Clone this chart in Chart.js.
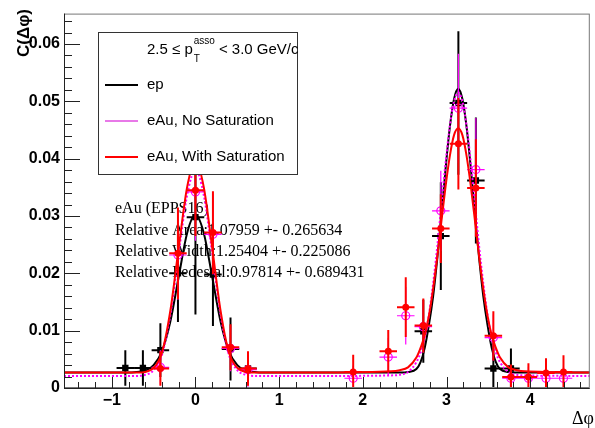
<!DOCTYPE html>
<html>
<head>
<meta charset="utf-8">
<script src="https://cdn.jsdelivr.net/npm/chart.js@4.4.1/dist/chart.umd.min.js"></script>
<style>
  html, body { margin: 0; padding: 0; background: #fff; }
  #wrap { width: 595px; height: 428px; }
</style>
</head>
<body>
<div id="wrap"><canvas id="dphi" width="595" height="428"></canvas></div>
<script>
// --- data (bin centres of 30 bins over [-pi/2, 3pi/2]) ---
const epX   = [-0.838, -0.628, -0.419, -0.209, 0, 0.209, 0.419, 0.628, 2.723, 2.932, 3.142, 3.351, 3.560, 3.770];
const epY   = [0.0035, 0.0035, 0.0066, 0.0200, 0.0298, 0.0198, 0.0068, 0.0034, 0.0099, 0.0265, 0.0497, 0.0362, 0.0034, 0.0034];
const epErr = [0.0031, 0.0031, 0.0047, 0.0085, 0.0170, 0.0090, 0.0055, 0.0028, 0.0055, 0.0094, 0.0125, 0.0110, 0.0050, 0.0035];

const satX   = [-0.419, -0.209, 0, 0.209, 0.419, 0.628, 1.885, 2.304, 2.513, 2.723, 2.932, 3.142, 3.351, 3.560, 3.770, 3.979, 4.189, 4.398];
const satY   = [0.0034, 0.0235, 0.0345, 0.0271, 0.0071, 0.0034, 0.0028, 0.0064, 0.0141, 0.0109, 0.0278, 0.0426, 0.0349, 0.0091, 0.0019, 0.0019, 0.0026, 0.0028];
const satErr = [0.0030, 0.0080, 0.0080, 0.0072, 0.0040, 0.0030, 0.0030, 0.0037, 0.0052, 0.0047, 0.0060, 0.0080, 0.0085, 0.0043, 0.0022, 0.0024, 0.0026, 0.0029];

const noSatX   = [-0.419, -0.209, 0, 0.209, 0.419, 0.628, 1.885, 2.304, 2.513, 2.723, 2.932, 3.142, 3.351, 3.560, 3.770, 3.979, 4.189, 4.398];
const noSatY   = [0.0036, 0.0232, 0.0342, 0.0268, 0.0069, 0.0032, 0.0017, 0.0054, 0.0126, 0.0107, 0.0309, 0.0488, 0.0381, 0.0088, 0.0017, 0.0017, 0.0017, 0.0017];
const noSatErr = [0.0030, 0.0078, 0.0085, 0.0070, 0.0040, 0.0030, 0.0022, 0.0033, 0.0050, 0.0045, 0.0070, 0.0095, 0.0090, 0.0040, 0.0020, 0.0020, 0.0020, 0.0020];

// fit curves, sampled by eye
const fitX = [-1.571,
  -0.8, -0.7, -0.6, -0.5, -0.4, -0.3, -0.2, -0.1, 0, 0.1, 0.2, 0.3, 0.4, 0.5, 0.6, 0.7, 0.8,
  1.571,
  2.34, 2.44, 2.54, 2.64, 2.69, 2.74, 2.79, 2.84, 2.89, 2.94, 2.99, 3.04, 3.09, 3.14,
  3.19, 3.24, 3.29, 3.34, 3.39, 3.44, 3.49, 3.54, 3.59, 3.64, 3.74, 3.84, 3.94,
  4.712];
const fitEp = [0.0027,
  0.0027, 0.0028, 0.0030, 0.0040, 0.0064, 0.0116, 0.0194, 0.0270, 0.0302, 0.0270, 0.0194, 0.0116, 0.0064, 0.0040, 0.0030, 0.0028, 0.0027,
  0.0027,
  0.0027, 0.0027, 0.0028, 0.0033, 0.0045, 0.0070, 0.0110, 0.0160, 0.0226, 0.0303, 0.0384, 0.0455, 0.0504, 0.0522,
  0.0504, 0.0455, 0.0384, 0.0303, 0.0226, 0.0160, 0.0110, 0.0070, 0.0045, 0.0033, 0.0028, 0.0027, 0.0027,
  0.0027];
const fitNoSat = [0.0021,
  0.0021, 0.0021, 0.0023, 0.0031, 0.0058, 0.0128, 0.0235, 0.0336, 0.0381, 0.0336, 0.0235, 0.0128, 0.0058, 0.0031, 0.0023, 0.0021, 0.0021,
  0.0021,
  0.0022, 0.0023, 0.0028, 0.0045, 0.0062, 0.0088, 0.0128, 0.0182, 0.0247, 0.0321, 0.0394, 0.0457, 0.0500, 0.0515,
  0.0500, 0.0457, 0.0394, 0.0321, 0.0247, 0.0182, 0.0128, 0.0088, 0.0062, 0.0045, 0.0028, 0.0023, 0.0022,
  0.0021];
const fitSat = [0.0027,
  0.0027, 0.0027, 0.0028, 0.0035, 0.0062, 0.0135, 0.0245, 0.0350, 0.0397, 0.0350, 0.0245, 0.0135, 0.0062, 0.0035, 0.0028, 0.0027, 0.0027,
  0.0027,
  0.0029, 0.0031, 0.0036, 0.0053, 0.0070, 0.0092, 0.0126, 0.0173, 0.0229, 0.0292, 0.0353, 0.0405, 0.0441, 0.0453,
  0.0441, 0.0405, 0.0353, 0.0292, 0.0229, 0.0173, 0.0126, 0.0092, 0.0070, 0.0053, 0.0036, 0.0031, 0.0029,
  0.0027];

const xTicks = [-1, 0, 1, 2, 3, 4];
const yTicks = [0, 0.01, 0.02, 0.03, 0.04, 0.05, 0.06];
const xMin = -Math.PI / 2, xMax = 3 * Math.PI / 2;
const yMin = 0, yMax = 0.0653;
const binHalf = Math.PI / 30;

const legendLabels = ['ep', 'eAu, No Saturation', 'eAu, With Saturation'];
const fitText = [
  'eAu (EPPS16)',
  'Relative Area:1.07959 +- 0.265634',
  'Relative Width:1.25404 +- 0.225086',
  'Relative Pedestal:0.97814 +- 0.689431'
];

const SANS = '"Liberation Sans", Arial, Helvetica, sans-serif';
const SERIF = '"Liberation Serif", "Times New Roman", serif';
const MAGENTA = '#ff00ff';

// build the error-bar polylines (null breaks between segments)
const errorSegments = (xs, ys, es) => {
  const pts = [];
  xs.forEach((x, i) => {
    pts.push({ x: x, y: ys[i] - es[i] }, { x: x, y: ys[i] + es[i] }, { x: x, y: null });
    pts.push({ x: x - binHalf, y: ys[i] }, { x: x + binHalf, y: ys[i] }, { x: x, y: null });
  });
  return pts;
};
const toPoints = (xs, ys) => xs.map((x, i) => ({ x: x, y: ys[i] }));

const datasets = [
  // ep (black) - drawn first (highest order)
  { data: toPoints(fitX, fitEp), borderColor: '#000', borderWidth: 2, pointRadius: 0, order: 60, cubicInterpolationMode: 'monotone' },
  { data: errorSegments(epX, epY, epErr), borderColor: '#000', borderWidth: 2, pointRadius: 0, spanGaps: false, order: 70 },
  { data: toPoints(epX, epY), showLine: false, pointStyle: 'rect', pointRadius: 4.5, backgroundColor: '#000', borderColor: '#000', borderWidth: 0, order: 65 },
  // eAu no saturation (magenta)
  { data: toPoints(fitX, fitNoSat), borderColor: MAGENTA, borderWidth: 2, borderDash: [2, 2], pointRadius: 0, order: 40, cubicInterpolationMode: 'monotone' },
  { data: errorSegments(noSatX, noSatY, noSatErr), borderColor: MAGENTA, borderWidth: 1.2, pointRadius: 0, spanGaps: false, order: 50 },
  { data: toPoints(noSatX, noSatY), showLine: false, pointStyle: 'circle', pointRadius: 4, backgroundColor: 'rgba(255,255,255,0)', borderColor: MAGENTA, borderWidth: 1.2, order: 45 },
  // eAu with saturation (red) - on top
  { data: toPoints(fitX, fitSat), borderColor: '#ff0000', borderWidth: 2, pointRadius: 0, order: 10, cubicInterpolationMode: 'monotone' },
  { data: errorSegments(satX, satY, satErr), borderColor: '#ff0000', borderWidth: 2, pointRadius: 0, spanGaps: false, order: 20 },
  { data: toPoints(satX, satY), showLine: false, pointStyle: 'circle', pointRadius: 3.5, backgroundColor: '#ff0000', borderColor: '#ff0000', borderWidth: 0, order: 15 }
];

// ROOT-like frame, inward ticks, legend box and texts
const rootStyle = {
  id: 'rootStyle',
  beforeDatasetsDraw(chart) {
    const c = chart.ctx;
    c.save();
    c.fillStyle = '#000';
    c.font = '16px ' + SERIF;
    c.textAlign = 'left';
    c.textBaseline = 'middle';
    const ys = [209, 231, 252, 273];
    fitText.forEach((t, i) => c.fillText(t, 115, ys[i]));
    c.restore();
  },
  afterDatasetsDraw(chart) {
    const c = chart.ctx;
    const a = chart.chartArea;
    const sx = chart.scales.x, sy = chart.scales.y;
    c.save();
    // frame
    c.lineWidth = 1;
    c.strokeStyle = '#777';
    c.strokeRect(a.left + 0.5, a.top + 0.5, a.right - a.left - 1, a.bottom - a.top - 1);
    c.strokeStyle = '#222';
    c.beginPath();
    c.moveTo(a.left + 0.5, a.top);
    c.lineTo(a.left + 0.5, a.bottom + 0.5);
    c.lineTo(a.right, a.bottom + 0.5);
    c.stroke();
    // y ticks
    c.beginPath();
    for (let v = 0; v <= 0.0641; v += 0.002) {
      const py = Math.round(sy.getPixelForValue(v)) + 0.5;
      const major = Math.abs(v / 0.01 - Math.round(v / 0.01)) < 1e-6;
      c.moveTo(a.left, py);
      c.lineTo(a.left + (major ? 16 : 8), py);
    }
    // x ticks
    for (let i = -7; i <= 23; i++) {
      const v = i * 0.2;
      if (v < xMin || v > xMax) continue;
      const px = Math.round(sx.getPixelForValue(v)) + 0.5;
      const major = i % 5 === 0;
      c.moveTo(px, a.bottom);
      c.lineTo(px, a.bottom - (major ? 11 : 6));
    }
    c.stroke();

    // axis titles
    c.fillStyle = '#000';
    c.font = '18px ' + SERIF;
    c.textAlign = 'right';
    c.textBaseline = 'alphabetic';
    c.fillText('Δφ', 594, 424);
    c.save();
    c.translate(29, 9);
    c.rotate(-Math.PI / 2);
    c.font = 'bold 17px ' + SANS;
    c.textAlign = 'right';
    c.fillText('C(Δφ)', 0, 0);
    c.restore();

    // legend box
    const L = { left: 98, top: 32, right: 297, bottom: 174 };
    c.fillStyle = '#fff';
    c.fillRect(L.left, L.top, L.right - L.left, L.bottom - L.top);
    c.strokeStyle = '#333';
    c.lineWidth = 1;
    c.strokeRect(L.left + 0.5, L.top + 0.5, L.right - L.left, L.bottom - L.top);

    // header with p_T^asso
    c.fillStyle = '#000';
    c.textAlign = 'left';
    c.textBaseline = 'alphabetic';
    c.font = '15px ' + SANS;
    let hx = 147;
    const part1 = '2.5 ≤ p';
    c.fillText(part1, hx, 54);
    hx += c.measureText(part1).width;
    c.font = '10px ' + SANS;
    c.fillText('asso', hx + 1, 44);
    const wSup = c.measureText('asso').width;
    c.fillText('T', hx + 1, 62);
    hx += wSup + 5;
    c.font = '15px ' + SANS;
    c.fillText('< 3.0 GeV/c', hx, 54);

    const colors = ['#000', '#e879e8', '#ff0000'];
    const rows = [85, 121, 157];
    legendLabels.forEach((lab, i) => {
      c.strokeStyle = colors[i];
      c.lineWidth = 2;
      c.beginPath();
      c.moveTo(105, rows[i]);
      c.lineTo(138, rows[i]);
      c.stroke();
      c.fillStyle = '#000';
      c.font = '15px ' + SANS;
      c.textBaseline = 'middle';
      c.fillText(lab, 147, rows[i]);
    });
    c.restore();
  }
};

const tickFont = { family: SANS, size: 16, weight: 'bold' };

new Chart(document.getElementById('dphi'), {
  type: 'line',
  data: { datasets: datasets },
  options: {
    responsive: false,
    devicePixelRatio: 1,
    animation: false,
    layout: { padding: { top: 9, right: 1, left: 0, bottom: 0 } },
    plugins: { legend: { display: false }, tooltip: { enabled: false } },
    elements: { line: { tension: 0 } },
    scales: {
      x: {
        type: 'linear',
        min: xMin,
        max: xMax,
        afterBuildTicks: s => { s.ticks = xTicks.map(v => ({ value: v })); },
        afterFit: s => { s.height = 40; },
        grid: { display: false, drawTicks: false },
        border: { display: false },
        ticks: {
          padding: 3,
          color: '#000',
          font: tickFont,
          maxRotation: 0,
          autoSkip: false,
          callback: v => (v < 0 ? '\u2212' + Math.abs(v) : String(v))
        }
      },
      y: {
        type: 'linear',
        min: yMin,
        max: yMax,
        afterBuildTicks: s => { s.ticks = yTicks.map(v => ({ value: v })); },
        afterFit: s => { s.width = 64; },
        grid: { display: false, drawTicks: false },
        border: { display: false },
        ticks: {
          padding: 4,
          color: '#000',
          font: tickFont,
          autoSkip: false,
          callback: v => (v === 0 ? '0' : v.toFixed(2))
        }
      }
    }
  },
  plugins: [rootStyle]
});
</script>
</body>
</html>
